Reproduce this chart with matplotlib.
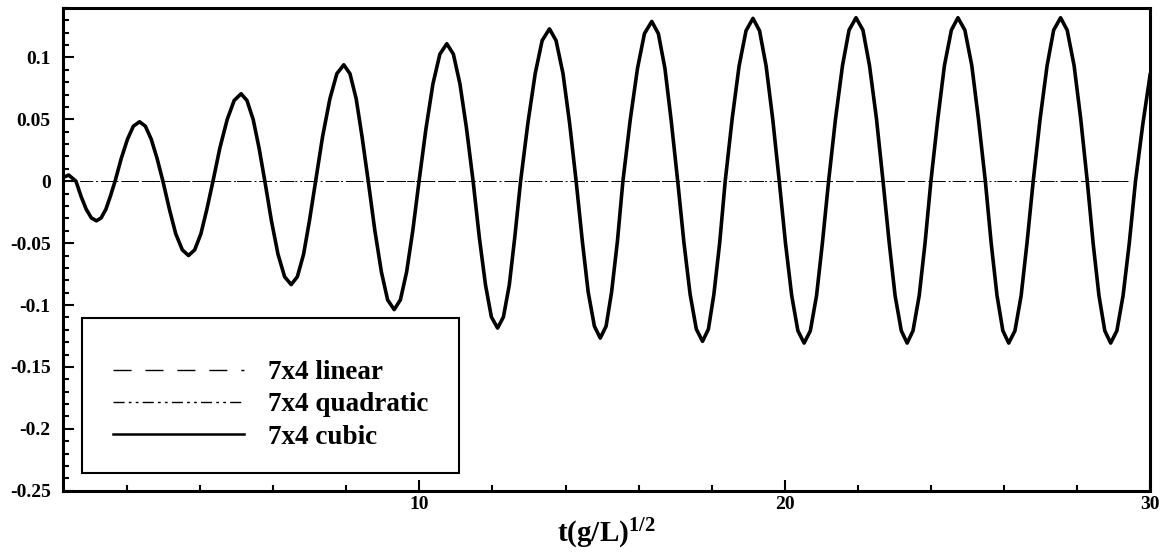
import matplotlib
matplotlib.use("Agg")
import matplotlib.pyplot as plt
from matplotlib.patches import Rectangle
from matplotlib.ticker import MultipleLocator, FuncFormatter

plt.rcParams['font.family'] = ['Liberation Serif', 'DejaVu Serif']
plt.rcParams['font.weight'] = 'bold'
plt.rcParams['mathtext.default'] = 'regular'
plt.rcParams['axes.unicode_minus'] = False

# time axis t(g/L)^(1/2) and amplitude
t_cubic = [0.25, 0.40,
           0.60, 0.74, 0.88, 1.02, 1.16, 1.29, 1.42, 1.54,
           1.67, 1.84, 2.01, 2.17, 2.34, 2.50, 2.66, 2.82,
           2.98, 3.16, 3.33, 3.51, 3.68, 3.85, 4.02, 4.18,
           4.35, 4.54, 4.74, 4.93, 5.12, 5.28, 5.45, 5.61,
           5.77, 5.95, 6.13, 6.31, 6.49, 6.66, 6.83, 6.99,
           7.16, 7.35, 7.55, 7.74, 7.93, 8.10, 8.27, 8.43,
           8.60, 8.78, 8.96, 9.13, 9.31, 9.48, 9.65, 9.82,
           9.99, 10.18, 10.37, 10.56, 10.75, 10.93, 11.11, 11.29,
           11.47, 11.64, 11.81, 11.97, 12.14, 12.30, 12.46, 12.61,
           12.77, 12.97, 13.17, 13.36, 13.56, 13.74, 13.93, 14.11,
           14.29, 14.46, 14.62, 14.79, 14.95, 15.11, 15.26, 15.42,
           15.57, 15.77, 15.97, 16.16, 16.36, 16.54, 16.72, 16.89,
           17.07, 17.24, 17.41, 17.58, 17.75, 17.91, 18.06, 18.22,
           18.37, 18.56, 18.75, 18.94, 19.13, 19.31, 19.49, 19.67,
           19.85, 20.02, 20.19, 20.36, 20.53, 20.70, 20.87, 21.03,
           21.20, 21.39, 21.58, 21.76, 21.95, 22.14, 22.32, 22.51,
           22.69, 22.86, 23.02, 23.19, 23.35, 23.51, 23.68, 23.84,
           24.00, 24.19, 24.37, 24.56, 24.74, 24.93, 25.12, 25.30,
           25.49, 25.65, 25.81, 25.97, 26.13, 26.30, 26.47, 26.63,
           26.80, 26.99, 27.18, 27.36, 27.55, 27.73, 27.92, 28.10,
           28.28, 28.44, 28.60, 28.76, 28.92, 29.09, 29.26, 29.43,
           29.60, 29.80, 30.00]
amp_cubic = [0.003, 0.005,
             0.0, -0.0123, -0.0226, -0.0296, -0.032, -0.0296, -0.0226, -0.0123,
             0.0, 0.0184, 0.0339, 0.0444, 0.048, 0.0444, 0.0339, 0.0184,
             0.0, -0.0230, -0.0424, -0.0554, -0.060, -0.0554, -0.0424, -0.0230,
             0.0, 0.0270, 0.0499, 0.0652, 0.0706, 0.0652, 0.0499, 0.0270,
             0.0, -0.0320, -0.0590, -0.0771, -0.0835, -0.0771, -0.0590, -0.0320,
             0.0, 0.0360, 0.0665, 0.0868, 0.094, 0.0868, 0.0665, 0.0360,
             0.0, -0.0397, -0.0733, -0.0958, -0.1037, -0.0958, -0.0733, -0.0397,
             0.0, 0.0425, 0.0785, 0.1026, 0.111, 0.1026, 0.0785, 0.0425,
             0.0, -0.0454, -0.0839, -0.1096, -0.1186, -0.1096, -0.0839, -0.0454,
             0.0, 0.0471, 0.0870, 0.1136, 0.123, 0.1136, 0.0870, 0.0471,
             0.0, -0.0485, -0.0896, -0.1171, -0.1267, -0.1171, -0.0896, -0.0485,
             0.0, 0.0494, 0.0912, 0.1192, 0.129, 0.1192, 0.0912, 0.0494,
             0.0, -0.0495, -0.0914, -0.1195, -0.1293, -0.1195, -0.0914, -0.0495,
             0.0, 0.0503, 0.0930, 0.1215, 0.1315, 0.1215, 0.0930, 0.0503,
             0.0, -0.0500, -0.0924, -0.1208, -0.1307, -0.1208, -0.0924, -0.0500,
             0.0, 0.0505, 0.0933, 0.1220, 0.132, 0.1220, 0.0933, 0.0505,
             0.0, -0.0500, -0.0924, -0.1208, -0.1307, -0.1208, -0.0924, -0.0500,
             0.0, 0.0505, 0.0933, 0.1220, 0.132, 0.1220, 0.0933, 0.0505,
             0.0, -0.0500, -0.0924, -0.1208, -0.1307, -0.1208, -0.0924, -0.0500,
             0.0, 0.0505, 0.0933, 0.1220, 0.132, 0.1220, 0.0933, 0.0505,
             0.0, -0.0500, -0.0924, -0.1208, -0.1307, -0.1208, -0.0924, -0.0500,
             0.0, 0.046, 0.086]

# linear and quadratic runs stay on the zero level
t_flat = [0.7, 29.4]
amp_linear = [0.0, 0.0]
amp_quadratic = [0.0, 0.0]

labels = ['7x4 linear', '7x4 quadratic', '7x4 cubic']


def tick_fmt(v, pos):
    v = round(v, 4)
    if v == 0:
        return '0'
    return '%g' % v


fig = plt.figure(figsize=(11.7, 5.59), dpi=100)
ax = fig.add_axes([0.054, 0.122, 0.929, 0.864])

l1, = ax.plot(t_flat, amp_linear, color='black', lw=0.7, dashes=(13, 10))
l2, = ax.plot(t_flat, amp_quadratic, color='black', lw=0.7,
              dashes=(8, 3, 2, 3, 2, 3))
l3, = ax.plot(t_cubic, amp_cubic, color='black', lw=2.6,
              solid_joinstyle='round')

ax.set_xlim(0.25, 30)
ax.set_ylim(-0.25, 0.14)
ax.xaxis.set_major_locator(MultipleLocator(10))
ax.xaxis.set_minor_locator(MultipleLocator(2))
ax.yaxis.set_major_locator(MultipleLocator(0.05))
ax.yaxis.set_minor_locator(MultipleLocator(0.01))
ax.yaxis.set_major_formatter(FuncFormatter(tick_fmt))
ax.set_xticks([10, 20, 30])

ax.tick_params(which='both', direction='in', width=1.5, labelsize=14)
ax.tick_params(which='major', length=8)
ax.tick_params(which='minor', length=4)
ax.tick_params(axis='y', which='major', pad=9)
for sp in ax.spines.values():
    sp.set_linewidth(2.2)

ax.set_xlabel(r't(g/L)$^{\mathregular{1/2}}$', fontsize=21, fontweight='bold',
              labelpad=3)

# legend box
ax.add_patch(Rectangle((0.0175, 0.037), 0.3465, 0.321, transform=ax.transAxes,
                       fill=False, edgecolor='black', lw=1.5, zorder=5))
leg = ax.legend([l1, l2, l3], labels, loc='center left',
                bbox_to_anchor=(0.0355, 0.178), frameon=False, fontsize=19.5,
                handlelength=4.85, handletextpad=0.87, labelspacing=0.27,
                borderaxespad=0)
for h, w in zip(leg.get_lines(), [1.0, 1.0, 1.8]):
    h.set_linewidth(w)

fig.savefig('out.png', dpi=100)
